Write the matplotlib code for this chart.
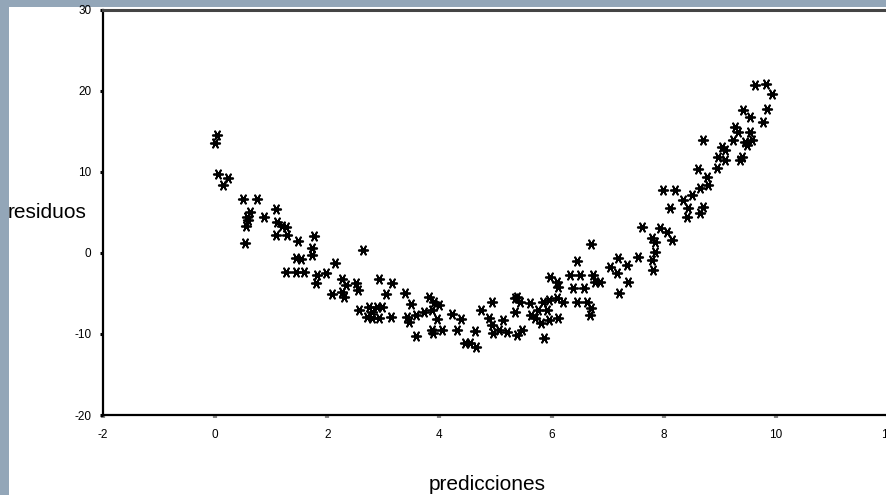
import matplotlib
matplotlib.use("Agg")
import matplotlib.pyplot as plt
from matplotlib.patches import Rectangle

# --- data ---
predicciones = [
    0.04, 0.00, 0.05, 0.23, 0.14, 0.50, 0.75, 0.63, 0.57, 0.59, 0.55, 0.88, 1.09, 1.11, 1.20, 1.27,
    1.09, 1.29, 1.48, 0.54, 1.77, 1.73, 1.73, 1.45, 1.54, 1.27, 1.45, 1.59, 1.82, 1.98, 2.13, 1.80,
    2.63, 2.27, 2.34, 2.52, 2.54, 2.27, 2.30, 2.09, 2.93, 3.16, 3.05, 3.39, 2.57, 2.75, 2.80, 2.88,
    2.98, 2.80, 2.93, 3.14, 2.71, 3.50, 3.43, 3.45, 3.59, 3.73, 3.82, 3.91, 4.00, 3.86, 3.96, 3.59,
    3.86, 4.05, 3.88, 4.23, 4.39, 4.32, 4.45,
    6.71, 6.45, 5.98, 6.09, 6.11, 6.32, 6.50, 6.73, 6.38, 6.57, 6.77, 6.45, 6.63, 6.71, 6.68, 4.93,
    5.34, 5.43, 5.39, 5.61, 5.84, 5.96, 6.09, 6.20, 5.34, 5.64, 5.75, 5.70, 5.82, 5.96, 6.11, 5.91,
    5.86, 4.75, 4.89, 4.93, 5.13, 5.07, 5.21, 4.95, 5.39, 5.48, 4.63, 4.54, 4.66,
    7.61, 7.93, 8.05, 8.14, 7.79, 7.84, 7.84, 7.54, 7.79, 7.18, 7.04, 7.16, 7.34, 7.80, 6.86, 7.36,
    7.21,
    9.63, 9.82, 9.93, 9.41, 9.84, 9.54, 9.77, 9.27, 9.32, 9.54, 9.45, 9.48, 9.57, 9.23, 8.70, 9.04,
    9.09, 8.96, 9.09, 9.39, 9.36, 8.61, 8.77, 8.95, 8.79, 8.64, 7.98, 8.20, 8.50, 8.11, 8.43, 8.70,
    8.64, 8.41, 8.34,
]
residuos = [
    14.6, 13.6, 9.8, 9.3, 8.4, 6.7, 6.7, 5.1, 4.4, 4.1, 3.3, 4.4, 5.4, 3.8, 3.3, 3.2,
    2.2, 2.2, 1.5, 1.2, 2.1, 0.6, -0.2, -0.6, -0.7, -2.3, -2.3, -2.3, -2.7, -2.5, -1.2, -3.7,
    0.4, -3.2, -4.0, -3.7, -4.6, -4.8, -5.4, -5.1, -3.2, -3.7, -5.1, -4.9, -7.0, -6.7, -7.3, -6.7,
    -6.7, -8.0, -8.0, -7.9, -7.9, -6.3, -7.9, -8.5, -7.7, -7.3, -5.4, -6.0, -6.4, -7.0, -8.1, -10.2,
    -9.5, -9.5, -9.9, -7.5, -8.1, -9.5, -11.1,
    1.1, -1.0, -3.0, -3.6, -4.2, -2.7, -2.7, -2.7, -4.3, -4.3, -3.6, -6.0, -6.0, -6.8, -7.7, -6.0,
    -5.6, -6.0, -5.4, -6.2, -6.0, -5.8, -5.6, -6.0, -7.3, -7.7, -7.0, -8.0, -8.6, -8.3, -8.0, -7.0,
    -10.5, -7.0, -8.0, -8.9, -8.3, -9.5, -9.8, -9.9, -10.1, -9.5, -9.6, -11.1, -11.6,
    3.2, 3.1, 2.6, 1.6, 1.9, 1.4, 0.1, -0.5, -0.9, -0.6, -1.7, -2.5, -1.5, -2.1, -3.6, -3.6,
    -4.9,
    20.7, 20.9, 19.6, 17.7, 17.8, 16.8, 16.2, 15.6, 14.9, 14.9, 13.7, 13.3, 14.0, 14.0, 14.0, 13.1,
    12.7, 11.9, 11.5, 11.9, 11.5, 10.4, 9.4, 10.5, 8.4, 8.0, 7.8, 7.8, 7.2, 5.6, 5.6, 5.7,
    4.9, 4.4, 6.5,
]
x_ticks = [-2, 0, 2, 4, 6, 8, 10, 12]
x_tick_labels = ["-2", "0", "2", "4", "6", "8", "10", "12"]
y_ticks = [-20, -10, 0, 10, 20, 30]
y_tick_labels = ["-20", "-10", "0", "10", "20", "30"]

W, H = 887, 495
fig = plt.figure(figsize=(W / 100, H / 100), dpi=100)
fig.patch.set_facecolor("#93a6b8")
bg = Rectangle((9 / W, 0), 1, 1 - 7 / H, transform=fig.transFigure,
               facecolor="white", edgecolor="none", zorder=-10)
fig.patches.append(bg)

ax = fig.add_axes([103 / W, 1 - 415 / H, (888 - 103) / W, (415 - 10) / H])
ax.set_zorder(5)
ax.patch.set_alpha(0)
ax.scatter(predicciones, residuos, marker=(6, 2, 90), s=46, c="black",
           linewidths=1.3, zorder=3)

ax.set_xlim(-2, 12)
ax.set_ylim(-20, 30)
ax.set_xticks(x_ticks)
ax.set_xticklabels(x_tick_labels)
ax.set_yticks(y_ticks)
ax.set_yticklabels(y_tick_labels)

font = "Liberation Sans"
for lab in ax.get_xticklabels() + ax.get_yticklabels():
    lab.set_fontfamily(font)
    lab.set_fontsize(8.5)
ax.tick_params(axis="y", direction="out", length=2.5, width=2.2, color="black", pad=6)
ax.tick_params(axis="x", direction="out", length=2, width=3, color="#888888", pad=8)

ax.spines["left"].set_linewidth(1.6)
ax.spines["bottom"].set_linewidth(1.6)
ax.spines["top"].set_linewidth(2.2)
ax.spines["top"].set_color("#444444")
ax.spines["right"].set_visible(False)

fig.text(8 / W, 1 - 213 / H, "residuos", ha="left", va="center",
         fontsize=15, family=font, color="black", zorder=6)
fig.text(487 / W, 1 - 485 / H, "predicciones", ha="center", va="center",
         fontsize=15, family=font, color="black", zorder=6)

fig.savefig("out.png", dpi=100, facecolor=fig.get_facecolor())
